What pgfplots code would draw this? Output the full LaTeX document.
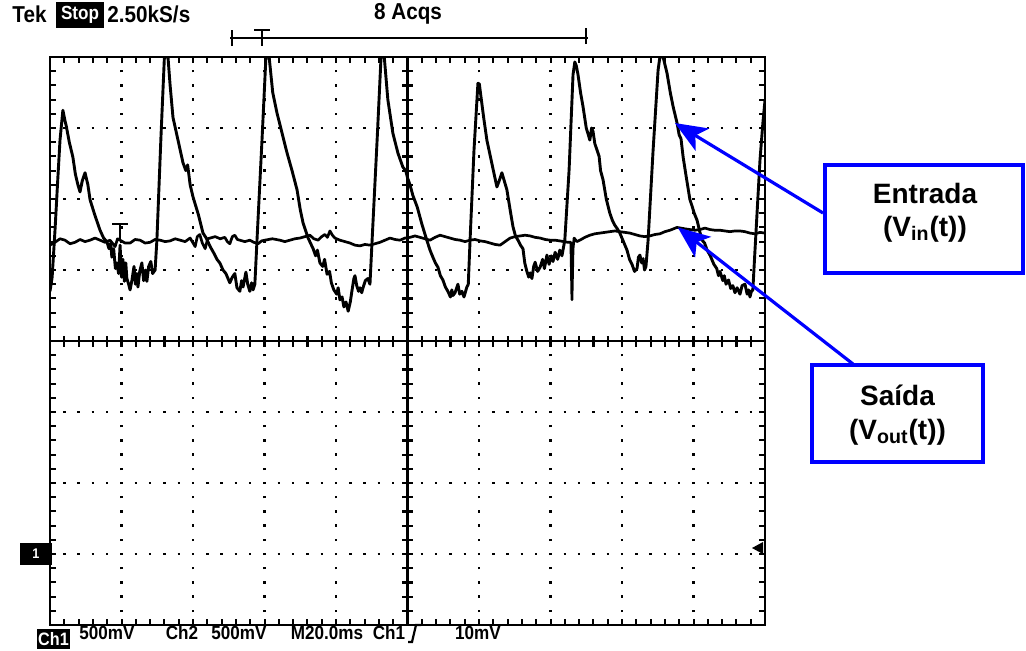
\documentclass[border=0pt]{standalone}
\usepackage{fontspec}
\setmainfont{Liberation Sans}
\newfontfamily\scopefont[FakeStretch=0.9]{Liberation Sans}
\usepackage{pgfplots}
\pgfplotsset{compat=1.18}
\usetikzlibrary{arrows.meta,calc}
\definecolor{annblue}{RGB}{0,0,255}

\begin{document}
\begin{tikzpicture}
\useasboundingbox (0,0) rectangle (513pt,325pt);
\begin{axis}[
  at={(25pt,12.5pt)}, anchor=south west, scale only axis,
  width=357.5pt, height=284pt,
  xmin=0, xmax=200, ymin=-4, ymax=4,
  xtick={0,20,...,200}, ytick={-4,-3,...,4},
  xticklabels={}, yticklabels={},
  minor x tick num=4, minor y tick num=4,
  tick align=inside, major tick length=2.8pt, minor tick length=2.8pt,
  tick style={black, line width=1pt},
  axis line style={line width=1.3pt},
  grid=major,
  x grid style={black, line width=1.2pt, dash pattern=on 1.2pt off 5.9pt, dash phase=0.6pt},
  y grid style={black, line width=1.2pt, dash pattern=on 1.2pt off 5.95pt, dash phase=0.6pt},
]
% centre graticule with its fine ticks
\draw[line width=1.1pt] (axis cs:100,-4) -- (axis cs:100,4);
\draw[line width=1.1pt] (axis cs:0,0) -- (axis cs:200,0);
\draw[line width=5.5pt, dash pattern=on 1.1pt off 6pt, dash phase=0.55pt] (axis cs:100,-4) -- (axis cs:100,4);
\draw[line width=5.5pt, dash pattern=on 1.1pt off 6.05pt, dash phase=0.55pt] (axis cs:0,0) -- (axis cs:200,0);

% Ch2 - output
\addplot[black, line width=1.35pt, line join=round] coordinates {
(0,1.35) (1.4,1.39) (2.8,1.44) (4.2,1.42) (5.6,1.37) (7.0,1.39) (8.4,1.43) (9.8,1.40)
(11.2,1.42) (12.6,1.45) (14.0,1.42) (15.4,1.39) (16.8,1.42) (18.2,1.33) (18.9,1.44)
(19.6,1.42) (21.0,1.38) (22.4,1.38) (23.8,1.43) (25.2,1.42) (26.6,1.38) (28.0,1.39)
(29.4,1.43) (30.8,1.42) (32.2,1.40) (33.6,1.41) (35.0,1.44) (36.4,1.42) (37.8,1.40)
(39.2,1.45) (40.6,1.33) (41.2,1.47) (41.9,1.50) (42.6,1.38) (43.4,1.30) (44.1,1.44)
(44.8,1.45) (46.2,1.47) (47.6,1.44) (48.9,1.46) (49.6,1.40) (50.3,1.37) (51.0,1.47)
(51.7,1.49) (52.4,1.43) (53.1,1.42) (54.5,1.40) (55.9,1.42) (57.0,1.39) (58.2,1.37)
(59.2,1.41) (60.1,1.42) (62.2,1.44) (64.3,1.42) (65.7,1.40) (67.1,1.42) (68.5,1.44)
(69.9,1.45) (71.3,1.47) (72.7,1.49) (73.8,1.44) (75.0,1.42) (76.0,1.47) (76.9,1.50)
(77.6,1.46) (78.3,1.55) (79.0,1.49) (79.7,1.45) (81.1,1.42) (82.5,1.40) (83.9,1.38)
(85.3,1.35) (86.7,1.34) (88.1,1.36) (89.5,1.35) (90.9,1.37) (92.3,1.39) (93.7,1.42)
(95.1,1.45) (96.5,1.43) (97.9,1.42) (99.3,1.45) (100.7,1.46) (102.1,1.48) (103.5,1.46)
(104.9,1.44) (106.3,1.42) (107.7,1.46) (109.1,1.49) (110.5,1.47) (111.9,1.45)
(113.3,1.43) (114.7,1.42) (116.1,1.40) (117.5,1.42) (118.9,1.43) (120.3,1.41)
(121.7,1.40) (123.1,1.38) (124.5,1.36) (125.9,1.35) (127.3,1.40) (128.7,1.45)
(130.1,1.47) (131.5,1.48) (132.9,1.49) (134.3,1.48) (135.7,1.46) (137.1,1.45)
(138.5,1.43) (139.9,1.42) (141.3,1.42) (142.6,1.41) (143.8,1.40) (144.9,1.39)
(145.7,1.39) (146.0,0.58) (146.3,1.30) (146.6,1.45) (147.4,1.40) (148.2,1.42)
(149.6,1.46) (151.0,1.49) (152.4,1.51) (153.8,1.52) (155.2,1.53) (156.6,1.54)
(158.0,1.55) (159.4,1.54) (160.8,1.53) (162.2,1.52) (163.6,1.50) (165.0,1.48)
(166.4,1.47) (167.8,1.48) (169.2,1.50) (170.6,1.51) (172.0,1.54) (173.4,1.56)
(174.4,1.58) (175.4,1.60) (176.5,1.59) (177.6,1.58) (179.0,1.57) (180.4,1.56)
(181.8,1.57) (183.2,1.59) (184.6,1.57) (186.0,1.56) (187.4,1.56) (188.8,1.55)
(190.2,1.54) (191.6,1.55) (193.0,1.55) (194.4,1.54) (195.8,1.52) (197.2,1.51)
(198.6,1.53) (200,1.52)
};

% Ch1 - input
\addplot[black, line width=1.45pt, line join=round] coordinates {
(0,0.70) (0.6,0.90) (1.4,1.56) (2.2,2.30) (2.8,2.83) (3.6,3.25) (4.2,3.10) (4.5,3.04)
(5.4,2.80) (6.4,2.59) (7.1,2.35) (7.8,2.20) (8.4,2.10) (9.0,2.25) (9.8,2.37) (10.6,2.20)
(11.2,1.99) (12.5,1.78) (14.0,1.56) (15.0,1.45) (15.9,1.40) (16.5,1.30) (17.0,1.38)
(17.3,1.18) (17.8,1.30) (18.3,1.02) (18.7,1.10) (19.2,0.95) (19.6,1.35) (20.0,0.90)
(20.4,1.15) (20.8,0.84) (21.2,1.10) (21.5,0.88) (22.0,0.80) (22.4,0.72) (22.9,0.85)
(23.5,1.05) (23.9,0.80) (24.3,0.95) (24.6,0.76) (25.1,0.98) (25.7,1.10) (26.2,0.85)
(26.7,1.00) (27.1,0.84) (27.6,1.05) (28.2,1.12) (28.7,0.95) (29.4,1.00) (29.9,1.42)
(31.0,2.83) (32.0,4.00) (33.0,4.00) (33.6,3.60) (34.4,3.15) (35.8,2.83) (37.2,2.51)
(38.0,2.40) (38.5,2.48) (39.2,2.20) (40.0,2.03) (41.5,1.78) (42.8,1.52) (43.7,1.45)
(44.8,1.33) (45.7,1.25) (46.7,1.15) (47.5,1.10) (48.4,1.00) (49.2,0.95) (50.3,0.82)
(51.0,0.90) (51.7,0.95) (52.3,0.75) (53.1,0.70) (53.6,0.85) (54.0,0.76) (54.8,0.97)
(55.3,0.80) (55.9,0.70) (56.4,0.82) (56.8,0.72) (57.3,0.80) (57.9,1.42) (59.3,2.83)
(60.4,4.00) (61.3,4.00) (62.3,3.50) (63.5,3.21) (64.9,2.93) (66.3,2.65) (67.7,2.40)
(69.1,2.13) (70.0,1.85) (70.8,1.66) (72.2,1.45) (73.6,1.30) (74.3,1.20) (74.8,1.28)
(75.5,1.10) (76.3,1.05) (76.8,1.15) (77.5,0.94) (78.2,0.98) (78.7,0.82) (79.4,0.72)
(80.2,0.66) (80.6,0.75) (81.1,0.58) (81.7,0.62) (82.2,0.48) (82.8,0.55) (83.4,0.42)
(84.0,0.55) (84.5,0.72) (85.0,0.88) (85.3,0.92) (85.8,0.78) (86.3,0.70) (86.7,0.75)
(87.2,0.68) (87.5,0.74) (88.2,0.85) (88.9,0.88) (89.5,0.80) (90.1,1.42) (91.5,2.83)
(92.6,4.00) (93.5,4.00) (94.5,3.40) (95.9,2.93) (97.3,2.65) (98.7,2.45) (99.5,2.40)
(100.0,2.30) (100.7,2.20) (101.5,2.05) (102.7,1.89) (104.0,1.65) (105.4,1.42)
(106.3,1.28) (107.1,1.18) (107.8,1.10) (108.5,1.04) (109.2,0.92) (109.9,0.86)
(110.6,0.76) (111.3,0.70) (112.0,0.62) (112.4,0.72) (112.7,0.64) (113.3,0.68)
(114.1,0.80) (114.6,0.66) (115.2,0.70) (115.8,0.62) (116.6,0.76) (117.0,0.80)
(117.5,1.42) (118.6,2.69) (119.7,3.63) (120.1,3.62) (120.5,3.46) (121.3,3.15)
(122.2,2.83) (123.6,2.50) (125.0,2.17) (125.6,2.25) (126.4,2.37) (127.1,2.25)
(127.8,2.13) (128.7,1.85) (129.5,1.61) (130.2,1.48) (130.9,1.42) (131.6,1.35)
(132.3,1.30) (132.8,1.10) (133.4,0.98) (133.9,0.90) (134.3,0.96) (134.8,0.88)
(135.3,1.05) (135.7,1.11) (136.4,0.98) (137.1,1.04) (137.8,1.15) (138.3,1.02)
(139.0,1.21) (139.6,1.08) (140.2,1.20) (140.7,1.12) (141.3,1.25) (142.0,1.15)
(142.6,1.28) (143.2,1.20) (144.0,1.42) (145.2,2.41) (146.3,3.75) (146.8,3.93)
(147.2,3.88) (147.7,3.75) (148.4,3.50) (149.1,3.30) (150.0,3.00) (150.6,2.90)
(151.0,2.83) (151.5,3.00) (151.9,2.95) (152.4,2.78) (153.0,2.69) (153.6,2.60)
(154.0,2.40) (154.7,2.27) (155.6,2.00) (156.6,1.80) (157.3,1.70) (158.0,1.63)
(158.7,1.58) (159.4,1.52) (160.4,1.40) (161.4,1.28) (162.1,1.15) (162.8,1.08)
(163.5,0.98) (164.2,1.02) (164.6,1.18) (165.0,1.21) (165.5,1.10) (165.9,1.16)
(166.3,1.00) (166.7,1.05) (167.3,1.42) (168.7,2.69) (170.1,3.82) (170.6,4.00)
(171.5,4.00) (172.6,3.77) (173.5,3.50) (174.3,3.30) (175.4,3.07) (176.0,2.90)
(176.5,2.85) (177.1,2.59) (178.0,2.30) (179.0,1.99) (179.6,1.90) (180.2,1.80)
(181.0,1.70) (181.7,1.55) (182.4,1.42) (183.1,1.38) (183.8,1.28) (184.7,1.20)
(185.7,1.08) (186.5,1.02) (187.0,0.92) (187.4,0.98) (188.2,0.85) (188.6,0.92)
(189.1,0.80) (189.8,0.86) (190.4,0.74) (191.0,0.78) (191.6,0.68) (192.2,0.75)
(193.0,0.66) (193.6,0.78) (194.4,0.80) (195.0,0.66) (195.4,0.72) (195.8,0.62)
(196.2,0.70) (196.6,0.72) (197.2,1.28) (198.6,2.55) (199.4,3.07) (200,3.39)
};

\coordinate (inTip) at (axis cs:174.8,3.07);
\coordinate (outTip) at (axis cs:175.6,1.60);
\coordinate (trig) at (axis cs:19.6,1.42);
\end{axis}

% trigger "T" marker on the trace
\draw[line width=1pt] ($(trig)+(-4pt,8pt)$) -- ($(trig)+(4pt,8pt)$);
\draw[line width=1pt] ($(trig)+(0,8pt)$) -- (trig);

% ground marker of Ch1 and trigger level marker
\fill[black] (10pt,42.5pt) rectangle (26pt,53.5pt);
\node[text=white, font=\scopefont\bfseries\fontsize{7}{8}\selectfont] at (18pt,48pt) {1};
\fill[black] (376pt,51pt) -- (381.5pt,54pt) -- (381.5pt,48pt) -- cycle;

% header
\node[anchor=west, font=\scopefont\bfseries\fontsize{11.5}{13}\selectfont, inner sep=0pt] at (6pt,318pt) {Tek};
\fill[black] (28pt,311pt) rectangle (52pt,324pt);
\node[text=white, font=\scopefont\bfseries\fontsize{9.5}{10}\selectfont, inner sep=0pt] at (40pt,317.5pt) {Stop};
\node[anchor=west, font=\scopefont\bfseries\fontsize{11.5}{13}\selectfont, inner sep=0pt] at (53.5pt,318pt) {2.50kS/s};
\node[font=\scopefont\bfseries\fontsize{11.5}{13}\selectfont, inner sep=0pt] at (204pt,318pt) {8 Acqs};
% record bracket
\draw[line width=0.9pt] (115pt,306pt) -- (294pt,306pt);
\draw[line width=1pt] (116pt,302pt) -- (116pt,310pt);
\draw[line width=1pt] (293pt,303pt) -- (293pt,311pt);
\draw[line width=1pt] (127pt,310pt) -- (135pt,310pt);
\draw[line width=1pt] (131pt,310pt) -- (131pt,302pt);

% footer
\fill[black] (18.5pt,0.5pt) rectangle (35pt,10.5pt);
\node[text=white, font=\scopefont\bfseries\fontsize{9}{10}\selectfont, inner sep=0pt] at (26.75pt,5.5pt) {Ch1};
\node[font=\scopefont\bfseries\fontsize{9.5}{11}\selectfont, inner sep=0pt] at (53.5pt,8.5pt) {500mV};
\node[font=\scopefont\bfseries\fontsize{9.5}{11}\selectfont, inner sep=0pt] at (91pt,8.5pt) {Ch2};
\node[font=\scopefont\bfseries\fontsize{9.5}{11}\selectfont, inner sep=0pt] at (119.5pt,8.5pt) {500mV};
\node[font=\scopefont\bfseries\fontsize{9.5}{11}\selectfont, inner sep=0pt] at (163.5pt,8.5pt) {M20.0ms};
\node[font=\scopefont\bfseries\fontsize{9.5}{11}\selectfont, inner sep=0pt] at (194.5pt,8.5pt) {Ch1};
\draw[line width=1.1pt] (204pt,4pt) -- (206pt,4pt) -- (208pt,12.5pt) -- (210.5pt,12.5pt);
\node[font=\scopefont\bfseries\fontsize{9.5}{11}\selectfont, inner sep=0pt] at (239pt,8.5pt) {10mV};

% annotations
\draw[annblue, line width=1.6pt] (412.5pt,188.5pt) rectangle (511.5pt,242.5pt);
\node[font=\bfseries\fontsize{14}{17}\selectfont] at (462.5pt,228.5pt) {Entrada};
\node[font=\bfseries\fontsize{14}{17}\selectfont] at (462.5pt,210.5pt) {(V\textsubscript{in}(t))};
\draw[annblue, line width=1.6pt] (406pt,94pt) rectangle (491.5pt,142.5pt);
\node[font=\bfseries\fontsize{14}{17}\selectfont] at (448.75pt,127.5pt) {Saída};
\node[font=\bfseries\fontsize{14}{17}\selectfont] at (448.75pt,109pt) {(V\textsubscript{out}(t))};
\draw[annblue, line width=1.6pt, -{Stealth[length=16pt,width=13pt,inset=4pt]}] (411.5pt,218.5pt) -- (inTip);
\draw[annblue, line width=1.6pt, -{Stealth[length=16pt,width=13pt,inset=4pt]}] (426.5pt,143pt) -- (outTip);
\end{tikzpicture}
\end{document}
